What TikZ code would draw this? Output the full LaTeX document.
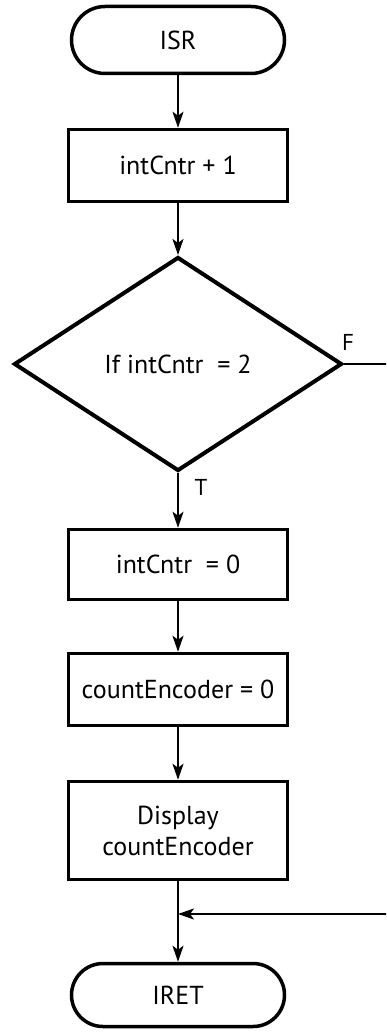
\documentclass[tikz,border=0pt]{standalone}
\usepackage{fontspec}
\setmainfont{PT Sans}
\usetikzlibrary{arrows.meta,shapes.geometric,shapes.misc}
\begin{document}
\begin{tikzpicture}[x=1pt,y=-1pt,
  every node/.style={font=\fontsize{26}{31}\selectfont},
  term/.style={draw,rounded rectangle,line width=3.5pt,minimum width=213pt,minimum height=67pt,inner sep=0pt},
  proc/.style={draw,rectangle,line width=3.5pt,minimum width=219pt,inner sep=0pt,align=center},
  dec/.style={draw,diamond,line width=4pt,minimum width=328pt,minimum height=214pt,inner sep=0pt},
  flow/.style={line width=2.3pt,-{Stealth[length=16pt,width=11pt,inset=4pt]}},
  plain/.style={line width=2.3pt},
  lab/.style={font=\fontsize{23}{26}\selectfont,inner sep=0pt}]
\useasboundingbox (0,0) rectangle (386,1032);
\clip (0,0) rectangle (386,1032);
\node[term] (isr) at (178,40) {ISR};
\node[proc,minimum height=72pt] (b1) at (178,165.5) {intCntr + 1};
\node[dec] (d) at (178,364) {If intCntr~ = 2};
\node[proc,minimum height=70pt] (b2) at (178,564.5) {intCntr~ = 0};
\node[proc,minimum height=72pt] (b3) at (178,689.5) {countEncoder = 0};
\node[proc,minimum height=98pt] (b4) at (178,830.5) {Display\\countEncoder};
\node[term,minimum height=63pt] (iret) at (178,995) {IRET};
\node[lab] (f) at (348,342) {F};
\node[lab] (t) at (201,487) {T};
\coordinate (j) at (178,914);
\coordinate (fr) at (394,364);
\coordinate (fb) at (394,914);
\draw[flow] (isr.south) -- (b1.north);
\draw[flow] (b1.south) -- (d.north);
\draw[flow] (d.south) -- (b2.north);
\draw[flow] (b2.south) -- (b3.north);
\draw[flow] (b3.south) -- (b4.north);
\draw[flow] (b4.south) -- (iret.north);
\draw[plain] (d.east) -- (fr) -- (fb);
\draw[flow] (fb) -- (j);
\end{tikzpicture}
\end{document}
